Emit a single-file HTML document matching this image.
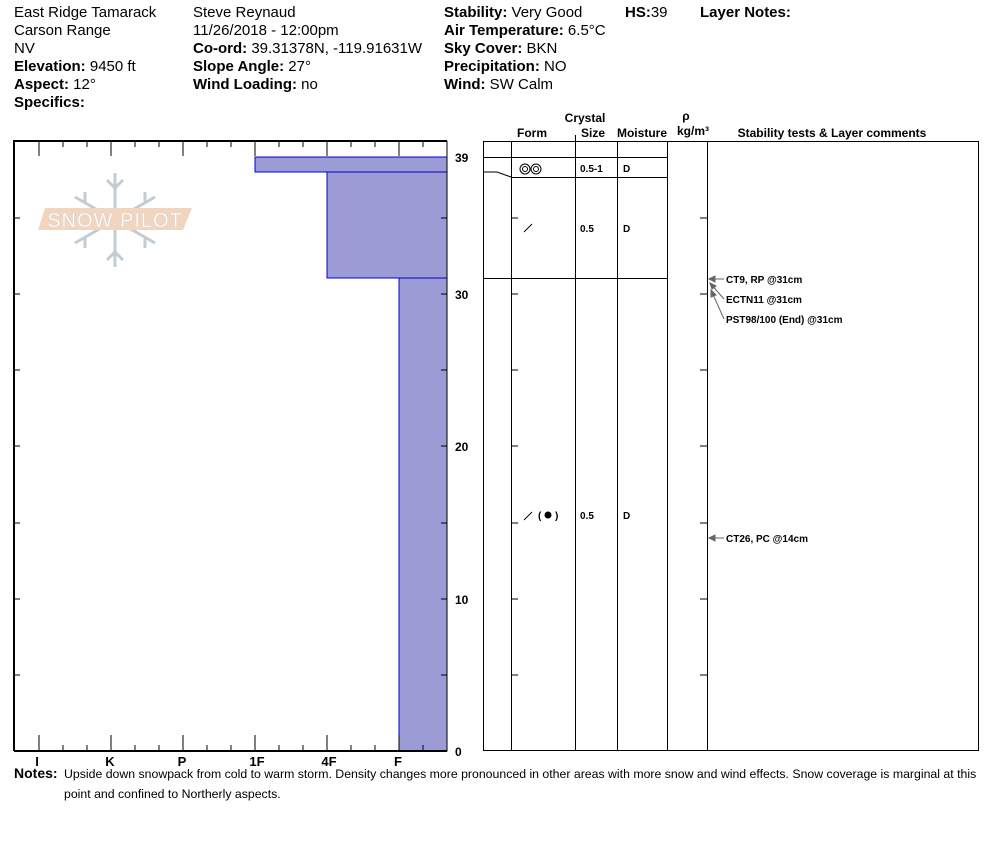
<!DOCTYPE html>
<html><head><meta charset="utf-8"><style>
body{margin:0;background:#fff;width:994px;height:840px;overflow:hidden;font-family:"Liberation Sans",Arial,sans-serif;}
svg text{font-family:"Liberation Sans",Arial,sans-serif;}
</style></head><body>
<svg width="994" height="840" xmlns="http://www.w3.org/2000/svg">
<g font-size="15" fill="#000">
<text x="14" y="17">East Ridge Tamarack</text>
<text x="14" y="35">Carson Range</text>
<text x="14" y="53">NV</text>
<text x="14" y="71"><tspan font-weight="bold">Elevation:</tspan> 9450 ft</text>
<text x="14" y="89"><tspan font-weight="bold">Aspect:</tspan> 12°</text>
<text x="14" y="107" font-weight="bold">Specifics:</text>
<text x="193" y="17">Steve Reynaud</text>
<text x="193" y="35">11/26/2018 - 12:00pm</text>
<text x="193" y="53"><tspan font-weight="bold">Co-ord:</tspan> 39.31378N, -119.91631W</text>
<text x="193" y="71"><tspan font-weight="bold">Slope Angle:</tspan> 27°</text>
<text x="193" y="89"><tspan font-weight="bold">Wind Loading:</tspan> no</text>
<text x="444" y="17"><tspan font-weight="bold">Stability:</tspan> Very Good</text>
<text x="444" y="35"><tspan font-weight="bold">Air Temperature:</tspan> 6.5°C</text>
<text x="444" y="53"><tspan font-weight="bold">Sky Cover:</tspan> BKN</text>
<text x="444" y="71"><tspan font-weight="bold">Precipitation:</tspan> NO</text>
<text x="444" y="89"><tspan font-weight="bold">Wind:</tspan>  SW Calm</text>
<text x="625" y="17"><tspan font-weight="bold">HS:</tspan>39</text>
<text x="700" y="17" font-weight="bold">Layer Notes:</text>
</g>
<!-- watermark -->
<g opacity="0.55">
<g stroke="#8fa3b3" stroke-width="3" fill="none" transform="translate(115,220)">
<line x1="0" y1="-47" x2="0" y2="47"/>
<line x1="-40" y1="-23" x2="40" y2="23"/>
<line x1="-40" y1="23" x2="40" y2="-23"/>
<path d="M-8,-40 L0,-32 L8,-40 M-8,40 L0,32 L8,40 M-30,-28 L-30,-17 M30,-28 L30,-17 M-30,28 L-30,17 M30,28 L30,17"/>
</g>
<polygon points="45,208 192,208 183,230 38,230" fill="#e7b48c"/>
<text x="115" y="227" text-anchor="middle" font-size="20" fill="#fff" stroke="#bbb" stroke-width="0.5" letter-spacing="1">SNOW PILOT</text>
</g>
<!-- left chart bars -->
<g fill="#9b9bd6" stroke="#0000cc" stroke-width="1">
<rect x="255" y="157" width="192" height="15"/>
<rect x="327" y="172" width="120" height="106"/>
<rect x="399" y="278" width="48" height="473"/>
</g>
<g stroke="#000" stroke-width="2" fill="none">
<polyline points="14,751 14,141 447,141"/>
<line x1="14" y1="751" x2="447" y2="751"/>
</g>
<g stroke="#000" stroke-width="1">
<line x1="447" y1="141" x2="447" y2="751"/>
<line x1="39" y1="141" x2="39" y2="156"/><line x1="111" y1="141" x2="111" y2="156"/><line x1="183" y1="141" x2="183" y2="156"/><line x1="255" y1="141" x2="255" y2="156"/><line x1="327" y1="141" x2="327" y2="156"/><line x1="399" y1="141" x2="399" y2="156"/>
<line x1="63" y1="141" x2="63" y2="147"/><line x1="87" y1="141" x2="87" y2="147"/><line x1="135" y1="141" x2="135" y2="147"/><line x1="159" y1="141" x2="159" y2="147"/><line x1="207" y1="141" x2="207" y2="147"/><line x1="231" y1="141" x2="231" y2="147"/><line x1="279" y1="141" x2="279" y2="147"/><line x1="303" y1="141" x2="303" y2="147"/><line x1="351" y1="141" x2="351" y2="147"/><line x1="375" y1="141" x2="375" y2="147"/><line x1="423" y1="141" x2="423" y2="147"/>
<line x1="39" y1="751" x2="39" y2="735"/><line x1="111" y1="751" x2="111" y2="735"/><line x1="183" y1="751" x2="183" y2="735"/><line x1="255" y1="751" x2="255" y2="735"/><line x1="327" y1="751" x2="327" y2="735"/><line x1="399" y1="751" x2="399" y2="735"/>
<line x1="63" y1="751" x2="63" y2="745"/><line x1="87" y1="751" x2="87" y2="745"/><line x1="135" y1="751" x2="135" y2="745"/><line x1="159" y1="751" x2="159" y2="745"/><line x1="207" y1="751" x2="207" y2="745"/><line x1="231" y1="751" x2="231" y2="745"/><line x1="279" y1="751" x2="279" y2="745"/><line x1="303" y1="751" x2="303" y2="745"/><line x1="351" y1="751" x2="351" y2="745"/><line x1="375" y1="751" x2="375" y2="745"/><line x1="423" y1="751" x2="423" y2="745"/>
<line x1="14" y1="218" x2="20" y2="218"/><line x1="14" y1="294" x2="20" y2="294"/><line x1="14" y1="370" x2="20" y2="370"/><line x1="14" y1="446" x2="20" y2="446"/><line x1="14" y1="523" x2="20" y2="523"/><line x1="14" y1="599" x2="20" y2="599"/><line x1="14" y1="675" x2="20" y2="675"/>
<line x1="441" y1="218" x2="447" y2="218"/><line x1="441" y1="294" x2="447" y2="294"/><line x1="441" y1="370" x2="447" y2="370"/><line x1="441" y1="446" x2="447" y2="446"/><line x1="441" y1="523" x2="447" y2="523"/><line x1="441" y1="599" x2="447" y2="599"/><line x1="441" y1="675" x2="447" y2="675"/>
</g>
<g font-size="13" font-weight="bold" text-anchor="middle">
<text x="37" y="766">I</text><text x="110" y="766">K</text><text x="182" y="766">P</text><text x="257" y="766">1F</text><text x="329" y="766">4F</text><text x="398" y="766">F</text>
</g>
<g font-size="12" font-weight="bold">
<text x="455" y="162">39</text><text x="455" y="299">30</text><text x="455" y="451">20</text><text x="455" y="604">10</text><text x="455" y="756">0</text>
</g>
<g stroke="#000" stroke-width="1" fill="none">
<rect x="483.5" y="141.5" width="495" height="609"/>
<line x1="511.5" y1="141" x2="511.5" y2="751"/>
<line x1="575.5" y1="135" x2="575.5" y2="751"/>
<line x1="617.5" y1="141" x2="617.5" y2="751"/>
<line x1="667.5" y1="141" x2="667.5" y2="751"/>
<line x1="707.5" y1="141" x2="707.5" y2="751"/>
<line x1="483" y1="157.5" x2="667" y2="157.5"/>
<line x1="511" y1="177.5" x2="667" y2="177.5"/>
<line x1="483" y1="278.5" x2="667" y2="278.5"/>
<polyline points="483,172 497,172 511,177"/>
<line x1="511" y1="218" x2="518" y2="218"/><line x1="511" y1="294" x2="518" y2="294"/><line x1="511" y1="370" x2="518" y2="370"/><line x1="511" y1="446" x2="518" y2="446"/><line x1="511" y1="523" x2="518" y2="523"/><line x1="511" y1="599" x2="518" y2="599"/><line x1="511" y1="675" x2="518" y2="675"/>
<line x1="700" y1="218" x2="707" y2="218"/><line x1="700" y1="294" x2="707" y2="294"/><line x1="700" y1="370" x2="707" y2="370"/><line x1="700" y1="446" x2="707" y2="446"/><line x1="700" y1="523" x2="707" y2="523"/><line x1="700" y1="599" x2="707" y2="599"/><line x1="700" y1="675" x2="707" y2="675"/>
<line x1="524" y1="232" x2="532" y2="224"/>
<line x1="524" y1="520" x2="532" y2="512"/>
<circle cx="525" cy="169" r="5"/><circle cx="536" cy="169" r="5"/>
<circle cx="525" cy="169" r="2.5"/><circle cx="536" cy="169" r="2.5"/>
</g>
<circle cx="548" cy="515" r="3.5" fill="#000"/>
<g font-size="12" font-weight="bold" text-anchor="middle">
<text x="585" y="122">Crystal</text>
<text x="532" y="137">Form</text><text x="593" y="137">Size</text><text x="642" y="137">Moisture</text>
<text x="686" y="120">ρ</text><text x="693" y="135">kg/m³</text>
<text x="832" y="137">Stability tests &amp; Layer comments</text>
</g>
<g font-size="10" font-weight="bold">
<text x="580" y="172">0.5-1</text><text x="623" y="172">D</text>
<text x="580" y="232">0.5</text><text x="623" y="232">D</text>
<text x="580" y="519">0.5</text><text x="623" y="519">D</text>
<text x="538" y="519">(</text><text x="555" y="519">)</text>
<text x="726" y="283">CT9, RP @31cm</text>
<text x="726" y="303">ECTN11 @31cm</text>
<text x="726" y="323">PST98/100 (End) @31cm</text>
<text x="726" y="542">CT26, PC @14cm</text>
</g>
<g stroke="#666" stroke-width="1" fill="#666">
<line x1="709" y1="279" x2="724" y2="279"/><polygon points="709,279 715,276 715,282"/>
<line x1="710" y1="283" x2="724" y2="299"/><polygon points="710,283 712,289 716,286"/>
<line x1="711" y1="290" x2="724" y2="319"/><polygon points="711,290 711,297 716,295"/>
<line x1="709" y1="538" x2="724" y2="538"/><polygon points="709,538 715,535 715,541"/>
</g>
<text x="14" y="778" font-size="14" font-weight="bold">Notes:</text>
<text x="64" y="778" font-size="12.3">Upside down snowpack from cold to warm storm.  Density changes more pronounced in other areas with more snow and wind effects.  Snow coverage is marginal at this</text>
<text x="64" y="798" font-size="12.3">point and confined to Northerly aspects.</text>
</svg>
</body></html>
